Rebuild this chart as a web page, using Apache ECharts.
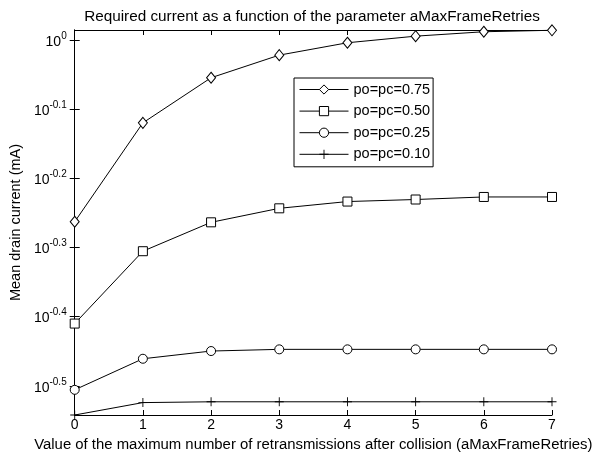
<!DOCTYPE html>
<html>
<head>
<meta charset="utf-8">
<script src="https://cdn.jsdelivr.net/npm/echarts@6/dist/echarts.min.js"></script>
<style>html,body{margin:0;padding:0;background:#fff}#c{width:604px;height:457px}</style>
</head>
<body>
<div id="c"></div>
<script>
const xValues = [0, 1, 2, 3, 4, 5, 6, 7];
const seriesNames = ['po=pc=0.75', 'po=pc=0.50', 'po=pc=0.25', 'po=pc=0.10'];
const s075 = [0.546, 0.759, 0.882, 0.951, 0.991, 1.013, 1.028, 1.033];
const s050 = [0.389, 0.495, 0.545, 0.571, 0.584, 0.588, 0.593, 0.593];
const s025 = [0.312, 0.346, 0.355, 0.357, 0.357, 0.357, 0.357, 0.357];
const s010 = [0.2869, 0.299, 0.2998, 0.2998, 0.2998, 0.2998, 0.2998, 0.2998];
const yTickExponents = [-0.5, -0.4, -0.3, -0.2, -0.1, 0];
const yMin = 0.2869, yMax = 1.034;

const yTickValues = yTickExponents.map(e => Math.pow(10, e));
const FONT = 'Liberation Sans';
const chart = echarts.init(document.getElementById('c'), null, {renderer: 'canvas'});

function pairs(arr) { return xValues.map((x, i) => [x, arr[i]]); }
const plusPath = 'path://M4.5,0H5.5V10H4.5ZM0,4.5H10V5.5H0Z';
const symbols = ['diamond', 'rect', 'circle', plusPath];
const sizes = [[9, 11], 9, 9, 9];
const datas = [s075, s050, s025, s010];

function yLabel(v) {
  const e = Math.round(Math.log10(v) * 10) / 10;
  const s = (Math.abs(e) < 1e-9) ? '0' : e.toFixed(1);
  return '{b|10}{s|' + s + '}';
}

const axisLine = {show: true, lineStyle: {color: '#000', width: 1}};
const axisTick = {show: true, inside: true, length: 5, lineStyle: {color: '#000', width: 1}};
const yTick = Object.assign({}, axisTick, {customValues: yTickValues});

chart.setOption({
  animation: false,
  backgroundColor: '#fff',
  title: {
    text: 'Required current as a function of the parameter aMaxFrameRetries',
    left: 312, top: 9, textAlign: 'center', padding: 0,
    textStyle: {fontFamily: FONT, fontSize: 15.3, fontWeight: 'normal', color: '#000'}
  },
  legend: {
    orient: 'vertical', left: 294, top: 78,
    data: seriesNames.map((n, i) => i === 3
      ? {name: n, itemStyle: {borderWidth: 0, color: '#000'}}
      : {name: n}),
    backgroundColor: '#fff', borderColor: '#000', borderWidth: 1,
    padding: [4, 3, 5, 5], itemGap: 6.6, itemWidth: 49, itemHeight: 11.5,
    lineStyle: {width: 1, color: '#000'},
    itemStyle: {borderWidth: 1, borderColor: '#000'},
    textStyle: {fontFamily: FONT, fontSize: 14.5, color: '#000'}
  },
  grid: {left: 74, right: 52, top: 30, bottom: 42, containLabel: false},
  xAxis: [{
    type: 'value', min: 0, max: 7, interval: 1, position: 'bottom',
    name: 'Value of the maximum number of retransmissions after collision (aMaxFrameRetries)',
    nameLocation: 'middle', nameGap: 19,
    nameTextStyle: {fontFamily: FONT, fontSize: 14.9, color: '#000'},
    axisLine, axisTick, splitLine: {show: false},
    axisLabel: {fontFamily: FONT, fontSize: 14, color: '#000', margin: 3}
  }, {
    type: 'value', min: 0, max: 7, interval: 1, position: 'top',
    axisLine, axisTick, splitLine: {show: false}, axisLabel: {show: false}
  }],
  yAxis: [{
    type: 'log', logBase: 10, min: yMin, max: yMax,
    name: 'Mean drain current (mA)', nameLocation: 'middle', nameGap: 47,
    nameTextStyle: {fontFamily: FONT, fontSize: 14.5, color: '#000'},
    axisLine, axisTick: yTick, splitLine: {show: false},
    axisLabel: {
      customValues: yTickValues,
      formatter: yLabel, margin: 8,
      rich: {
        b: {fontFamily: FONT, fontSize: 14, color: '#000', padding: [4, 0, 0, 0]},
        s: {fontFamily: FONT, fontSize: 10, color: '#000', padding: [0, 0, 8, 0]}
      }
    }
  }, {
    type: 'log', logBase: 10, min: yMin, max: yMax, position: 'right',
    axisLine, axisTick: yTick, splitLine: {show: false}, axisLabel: {show: false}
  }],
  series: datas.map((d, i) => ({
    name: seriesNames[i], type: 'line', data: pairs(d),
    symbol: symbols[i], symbolSize: sizes[i], showAllSymbol: true,
    lineStyle: {color: '#000', width: 1},
    itemStyle: i === 3
      ? {color: '#000', borderWidth: 0}
      : {color: '#fff', borderColor: '#000', borderWidth: 1},
    clip: false
  }))
});
</script>
</body>
</html>
